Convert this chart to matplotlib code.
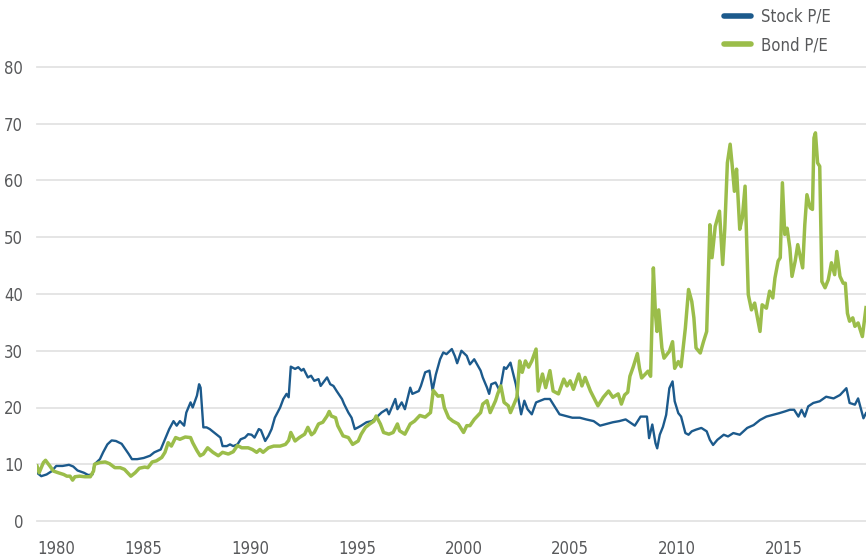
import numpy as np
import matplotlib
matplotlib.use('Agg')
import matplotlib.pyplot as plt
from matplotlib import font_manager as fm

# ── DATOS (años decimales) ─────────────────────────────────
stock_years = [1980.0, 1980.2, 1980.45, 1980.7, 1980.9, 1981.2, 1981.5, 1981.7, 1981.9, 1982.2,
               1982.4, 1982.6, 1982.7, 1982.95, 1983.1, 1983.3, 1983.5, 1983.7, 1983.97, 1984.1,
               1984.3, 1984.45, 1984.7, 1985.0, 1985.3, 1985.5, 1985.8, 1985.9, 1986.1, 1986.2,
               1986.4, 1986.55, 1986.7, 1986.9, 1987.0, 1987.2, 1987.3, 1987.5, 1987.6, 1987.67,
               1987.8, 1987.95, 1988.1, 1988.3, 1988.6, 1988.7, 1988.9, 1989.05, 1989.2, 1989.4,
               1989.55, 1989.75, 1989.9, 1990.06, 1990.2, 1990.4, 1990.5, 1990.7, 1990.85, 1991.0,
               1991.15, 1991.4, 1991.55, 1991.7, 1991.8, 1991.9, 1992.1, 1992.25, 1992.4, 1992.5,
               1992.7, 1992.85, 1993.0, 1993.2, 1993.3, 1993.6, 1993.75, 1993.9, 1994.05, 1994.3,
               1994.4, 1994.6, 1994.75, 1994.9, 1995.06, 1995.2, 1995.45, 1995.7, 1995.9, 1996.15,
               1996.4, 1996.5, 1996.8, 1996.9, 1997.1, 1997.25, 1997.5, 1997.6, 1997.9, 1998.0,
               1998.2, 1998.4, 1998.55, 1998.7, 1998.9, 1999.05, 1999.2, 1999.45, 1999.6, 1999.7,
               1999.9, 2000.15, 2000.3, 2000.5, 2000.8, 2000.9, 2001.1, 2001.2, 2001.3, 2001.5,
               2001.7, 2001.9, 2002.0, 2002.2, 2002.45, 2002.7, 2002.85, 2003.0, 2003.2, 2003.4,
               2003.6, 2003.8, 2004.05, 2004.3, 2004.5, 2004.8, 2005.1, 2005.45, 2005.75, 2006.1,
               2006.4, 2006.7, 2007.0, 2007.3, 2007.6, 2008.03, 2008.3, 2008.6, 2008.7, 2008.85,
               2009.0, 2009.08, 2009.2, 2009.35, 2009.5, 2009.65, 2009.8, 2009.9, 2010.07, 2010.2,
               2010.4, 2010.55, 2010.7, 2010.9, 2011.15, 2011.4, 2011.55, 2011.7, 2011.9, 2012.2,
               2012.4, 2012.65, 2012.95, 2013.3, 2013.6, 2013.9, 2014.2, 2014.5, 2014.8, 2015.06,
               2015.3, 2015.5, 2015.7, 2015.85, 2016.0, 2016.16, 2016.4, 2016.7, 2017.0, 2017.35,
               2017.65, 2017.95, 2018.1, 2018.35, 2018.5, 2018.75, 2018.87]
stock_pe = [8.5, 7.9, 8.2, 8.8, 9.7, 9.7, 9.9, 9.6, 8.9, 8.5,
            8.1, 8.2, 10.0, 10.9, 12.1, 13.5, 14.2, 14.1, 13.6, 12.9,
            11.8, 10.9, 10.9, 11.1, 11.5, 12.1, 12.6, 13.5, 15.3, 16.2,
            17.6, 16.8, 17.6, 16.8, 19.1, 20.9, 20.0, 22.1, 24.1, 23.5,
            16.5, 16.5, 16.2, 15.6, 14.7, 13.2, 13.2, 13.5, 13.2, 13.5,
            14.4, 14.7, 15.3, 15.2, 14.7, 16.2, 16.0, 14.1, 15.0, 16.2,
            18.2, 20.0, 21.5, 22.4, 21.8, 27.2, 26.8, 27.1, 26.5, 26.8,
            25.3, 25.6, 24.7, 25.0, 23.8, 25.3, 24.1, 23.8, 22.9, 21.5,
            20.6, 19.1, 18.2, 16.2, 16.5, 16.8, 17.4, 17.6, 18.2, 19.1,
            19.7, 18.8, 21.5, 19.7, 20.9, 19.7, 23.5, 22.4, 22.9, 23.8,
            26.2, 26.5, 23.0, 25.8, 28.5, 29.7, 29.4, 30.3, 29.0, 27.8,
            30.0, 29.1, 27.6, 28.5, 26.5, 25.3, 23.5, 22.4, 24.1, 24.4,
            22.9, 27.1, 26.8, 27.9, 24.1, 18.8, 21.2, 19.7, 18.8, 20.9,
            21.2, 21.5, 21.5, 20.0, 18.8, 18.5, 18.2, 18.2, 17.9, 17.6,
            16.8, 17.1, 17.4, 17.6, 17.9, 16.8, 18.4, 18.4, 14.6, 17.0,
            13.7, 12.8, 15.2, 16.6, 18.7, 23.4, 24.6, 21.1, 19.0, 18.4,
            15.5, 15.2, 15.8, 16.1, 16.4, 15.8, 14.3, 13.4, 14.3, 15.2,
            14.9, 15.5, 15.2, 16.4, 16.9, 17.8, 18.4, 18.7, 19.0, 19.3,
            19.6, 19.6, 18.4, 19.6, 18.4, 20.2, 20.8, 21.1, 21.9, 21.6,
            22.2, 23.4, 20.8, 20.5, 21.6, 18.1, 19.0]

bond_years = [1980.0, 1980.1, 1980.3, 1980.4, 1980.6, 1980.77, 1981.0, 1981.25, 1981.4, 1981.55,
              1981.67, 1981.78, 1982.0, 1982.25, 1982.5, 1982.65, 1982.7, 1982.95, 1983.2, 1983.4,
              1983.65, 1983.9, 1984.1, 1984.4, 1984.6, 1984.8, 1985.05, 1985.2, 1985.4, 1985.6,
              1985.85, 1986.0, 1986.15, 1986.3, 1986.5, 1986.7, 1986.95, 1987.2, 1987.3, 1987.5,
              1987.65, 1987.8, 1988.0, 1988.25, 1988.5, 1988.7, 1988.97, 1989.2, 1989.4, 1989.6,
              1989.9, 1990.1, 1990.3, 1990.45, 1990.6, 1990.85, 1991.1, 1991.4, 1991.65, 1991.8,
              1991.9, 1992.1, 1992.3, 1992.55, 1992.7, 1992.87, 1993.0, 1993.2, 1993.4, 1993.6,
              1993.7, 1993.8, 1994.0, 1994.1, 1994.35, 1994.6, 1994.8, 1995.06, 1995.2, 1995.4,
              1995.6, 1995.8, 1995.9, 1996.1, 1996.25, 1996.5, 1996.7, 1996.9, 1997.0, 1997.25,
              1997.5, 1997.7, 1997.95, 1998.2, 1998.45, 1998.58, 1998.8, 1999.0, 1999.1, 1999.3,
              1999.5, 1999.75, 2000.0, 2000.15, 2000.3, 2000.5, 2000.8, 2000.9, 2001.1, 2001.25,
              2001.5, 2001.6, 2001.75, 2001.9, 2002.1, 2002.2, 2002.4, 2002.5, 2002.63, 2002.75,
              2002.9, 2003.05, 2003.2, 2003.4, 2003.5, 2003.7, 2003.85, 2004.05, 2004.2, 2004.45,
              2004.7, 2004.85, 2005.0, 2005.15, 2005.4, 2005.55, 2005.7, 2005.95, 2006.1, 2006.3,
              2006.55, 2006.8, 2007.0, 2007.25, 2007.4, 2007.55, 2007.7, 2007.8, 2007.96, 2008.15,
              2008.25, 2008.35, 2008.5, 2008.65, 2008.77, 2008.9, 2009.0, 2009.07, 2009.15, 2009.3,
              2009.4, 2009.65, 2009.8, 2009.9, 2010.07, 2010.2, 2010.4, 2010.55, 2010.7, 2010.8,
              2010.9, 2011.1, 2011.25, 2011.4, 2011.55, 2011.65, 2011.8, 2012.0, 2012.15, 2012.25,
              2012.37, 2012.5, 2012.6, 2012.7, 2012.8, 2012.95, 2013.07, 2013.2, 2013.35, 2013.5,
              2013.65, 2013.9, 2014.0, 2014.2, 2014.35, 2014.5, 2014.6, 2014.75, 2014.85, 2014.95,
              2015.06, 2015.17, 2015.3, 2015.4, 2015.55, 2015.67, 2015.8, 2015.9, 2016.0, 2016.1,
              2016.25, 2016.36, 2016.43, 2016.5, 2016.6, 2016.7, 2016.8, 2016.95, 2017.1, 2017.25,
              2017.4, 2017.5, 2017.65, 2017.8, 2017.9, 2018.0, 2018.1, 2018.25, 2018.35, 2018.5,
              2018.7, 2018.87]
bond_pe = [9.7, 8.5, 10.3, 10.7, 9.7, 8.8, 8.5, 8.2, 7.9, 7.9,
           7.2, 7.8, 7.9, 7.8, 7.8, 8.8, 10.0, 10.3, 10.4, 10.1,
           9.4, 9.4, 9.1, 7.9, 8.5, 9.3, 9.5, 9.4, 10.4, 10.6,
           11.2, 12.1, 13.8, 13.2, 14.7, 14.4, 14.8, 14.7, 13.8, 12.4,
           11.5, 11.8, 12.9, 12.1, 11.5, 12.1, 11.8, 12.2, 13.3, 12.9,
           12.9, 12.6, 12.1, 12.6, 12.1, 12.9, 13.2, 13.2, 13.5, 14.2,
           15.6, 14.1, 14.7, 15.3, 16.5, 15.2, 15.6, 17.1, 17.4, 18.5,
           19.3, 18.5, 18.2, 16.8, 15.0, 14.7, 13.5, 14.1, 15.3, 16.5,
           17.1, 17.6, 18.5, 17.1, 15.6, 15.3, 15.6, 17.1, 15.9, 15.3,
           17.1, 17.6, 18.6, 18.3, 19.1, 23.0, 22.0, 22.1, 20.0, 18.2,
           17.6, 17.1, 15.6, 16.8, 16.8, 17.9, 19.1, 20.6, 21.2, 19.1,
           21.2, 22.4, 23.8, 20.9, 20.3, 19.1, 20.9, 21.8, 28.2, 26.2,
           28.2, 27.1, 28.2, 30.3, 22.9, 25.9, 23.5, 26.5, 22.9, 22.4,
           25.0, 23.8, 24.7, 23.2, 25.9, 23.8, 25.3, 22.9, 21.8, 20.3,
           21.8, 22.9, 21.8, 22.4, 20.6, 22.2, 22.7, 25.5, 27.2, 29.5,
           26.9, 25.2, 25.8, 26.4, 25.5, 44.6, 36.4, 33.4, 37.2, 30.5,
           28.7, 29.9, 31.6, 26.9, 28.1, 27.2, 34.0, 40.8, 38.7, 35.8,
           30.5, 29.6, 31.6, 33.4, 52.2, 46.4, 51.9, 54.6, 45.2, 51.6,
           63.1, 66.4, 62.5, 58.1, 62.0, 51.4, 53.4, 59.0, 39.9, 37.2,
           38.4, 33.4, 38.1, 37.5, 40.5, 39.3, 42.8, 45.8, 46.4, 59.6,
           50.5, 51.6, 48.1, 43.1, 45.8, 48.7, 46.4, 44.6, 52.2, 57.5,
           55.2, 54.9, 67.5, 68.4, 63.1, 62.5, 42.2, 41.1, 42.5, 45.5,
           43.4, 47.5, 43.1, 41.9, 41.9, 36.6, 35.2, 35.8, 34.3, 34.9,
           32.5, 37.6]

x_ticks = [1980, 1985, 1990, 1995, 2000, 2005, 2010, 2015]
y_ticks = [0, 10, 20, 30, 40, 50, 60, 70, 80]

# ── FUENTE: buscamos una variante estrecha si existe ───────
estrechas = [f for f in fm.fontManager.ttflist
             if f.style == 'normal' and f.weight in (400, 'normal', 'regular')
             and (f.stretch in ('condensed', 'semi-condensed')
                  or 'Narrow' in f.name or 'Condensed' in f.name)]
if estrechas:
    FUENTE = fm.FontProperties(fname=estrechas[0].fname)
    TAM = 12
else:
    FUENTE = fm.FontProperties(family='Liberation Sans')
    TAM = 11
FUENTE.set_size(TAM)

GRIS = '#58595b'
AZUL = '#1c5a8c'
VERDE = '#9bbd4a'

W, H = 866, 557
fig = plt.figure(figsize=(W / 100, H / 100), dpi=100)
ax = fig.add_axes([37 / W, 1 - 521 / H, 1 - 37 / W, (521 - 67) / H])

ax.plot(stock_years, stock_pe, color=AZUL, lw=1.7, label='Stock P/E', zorder=3,
        solid_joinstyle='round')
ax.plot(bond_years, bond_pe, color=VERDE, lw=2.5, label='Bond P/E', zorder=4,
        solid_joinstyle='round')

ax.set_xlim(1980, 2018.87)
ax.set_ylim(0, 80)
ax.set_yticks(y_ticks)
ax.set_xticks(x_ticks)
ax.set_xticklabels([str(v) for v in x_ticks], fontproperties=FUENTE, color=GRIS)
ax.set_yticklabels([str(v) for v in y_ticks], fontproperties=FUENTE, color=GRIS)
ax.tick_params(axis='both', length=0)
ax.tick_params(axis='x', pad=14)
ax.tick_params(axis='y', pad=10)
ax.get_xticklabels()[0].set_ha('left')

for v in y_ticks:
    ax.axhline(v, color='#e3e3e3', lw=1.3, zorder=1, clip_on=False)
for s in ax.spines.values():
    s.set_visible(False)

# leyenda arriba a la derecha, fuera del área de datos
leg = ax.legend(loc='upper left', bbox_to_anchor=(716 / W, 1 + 1 / H),
                bbox_transform=fig.transFigure, frameon=False, prop=FUENTE,
                borderpad=0, handlelength=1.6, handletextpad=0.6,
                labelspacing=0.65)
for h in leg.get_lines():
    h.set_linewidth(4)
    h.set_solid_capstyle('round')
for t in leg.get_texts():
    t.set_color(GRIS)

fig.savefig('out.png', dpi=100)
